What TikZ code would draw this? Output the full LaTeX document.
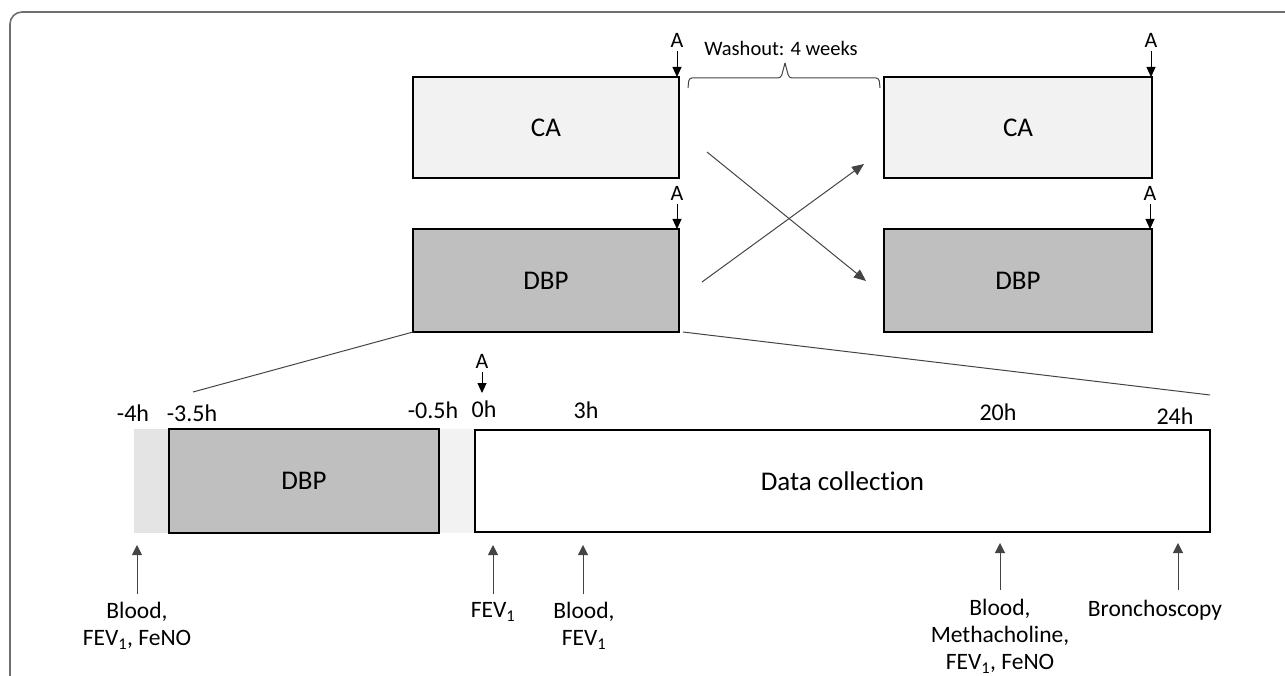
\documentclass[tikz,border=0pt]{standalone}
\usepackage{fontspec}
\setmainfont{Carlito}[Ligatures=NoCommon]
\usetikzlibrary{arrows.meta}
\definecolor{lightbox}{HTML}{F2F2F2}
\definecolor{darkbox}{HTML}{BFBFBF}
\definecolor{bandA}{HTML}{E4E4E4}
\definecolor{bandB}{HTML}{F2F2F2}
\definecolor{framecol}{HTML}{6E6E6E}
\definecolor{conn}{HTML}{444444}
\tikzset{
  box/.style={draw=black, line width=1.3pt, inner sep=0pt, outer sep=0pt, font=\fontsize{27}{32}\selectfont},
  alabel/.style={inner sep=0pt, font=\fontsize{22}{26}\selectfont},
  tlabel/.style={inner sep=0pt, anchor=base, font=\fontsize{24}{28}\selectfont},
  blabel/.style={inner sep=0pt, anchor=north, align=center, font=\fontsize{23.5}{27}\selectfont},
  arr/.style={draw=black, line width=0.9pt, -{Triangle[length=10pt,width=9pt]}},
  conline/.style={draw=conn, line width=1pt},
  conarr/.style={draw=conn, line width=1pt, -{Triangle[length=12pt,width=10pt]}},
  uparr/.style={draw=conn, line width=1pt, -{Triangle[length=10pt,width=10pt]}}
}
\begin{document}
\begin{tikzpicture}[x=1pt,y=-1pt]
\useasboundingbox (0,0) rectangle (1285,676);
\clip (0,0) rectangle (1285,676);
% frame
\draw[framecol, line width=1.6pt, rounded corners=12pt] (10,12) rectangle (1320,720);

% upper boxes
\node[box, fill=lightbox, minimum width=266pt, minimum height=101pt] (ca1) at (546,127.5) {CA};
\node[box, fill=darkbox, minimum width=266pt, minimum height=103pt] (dbp1) at (546,280.5) {DBP};
\node[box, fill=lightbox, minimum width=268pt, minimum height=101pt] (ca2) at (1018,127.5) {CA};
\node[box, fill=darkbox, minimum width=268pt, minimum height=103pt] (dbp2) at (1018,280.5) {DBP};

% A arrows
\node[alabel] (a1) at (677,40) {A};
\node[alabel] (a2) at (1151,40) {A};
\node[alabel] (a3) at (677,193) {A};
\node[alabel] (a4) at (1150,193) {A};
\draw[arr, shorten <=4pt] (a1.south) -- (a1.south |- ca1.north);
\draw[arr, shorten <=4pt] (a2.south) -- (a2.south |- ca2.north);
\draw[arr, shorten <=4pt] (a3.south) -- (a3.south |- dbp1.north);
\draw[arr, shorten <=4pt] (a4.south) -- (a4.south |- dbp2.north);

% washout brace
\node[inner sep=0pt, font=\fontsize{20.5}{24}\selectfont] (wash) at (781,48) {Washout: 4 weeks};
\draw[conn, line width=1pt, rounded corners=3pt] (688,88) -- (689,78) -- (781,78) -- (785,63);
\draw[conn, line width=1pt, rounded corners=3pt] (785,63) -- (789,78) -- (879,78) -- (880,88);

% crossing arrows
\coordinate (c1s) at (702,282);
\coordinate (c1e) at (864,164);
\coordinate (c2s) at (707,152);
\coordinate (c2e) at (866,281);
\draw[conarr] (c1s) -- (c1e);
\draw[conarr] (c2s) -- (c2e);

% timeline bands and boxes
\fill[bandA] (134,429) rectangle (169,533);
\fill[bandB] (439,429) rectangle (475,533);
\node[box, fill=darkbox, minimum width=270pt, minimum height=104pt] (dbp3) at (304,481) {DBP};
\node[box, fill=white, minimum width=735pt, minimum height=102pt] (dc) at (842.5,481) {Data collection};

% zoom lines
\coordinate (zl) at (193,392);
\coordinate (zr) at (1210,395);
\draw[conline] (dbp1.south west) -- (zl);
\draw[conline] ([xshift=4pt]dbp1.south east) -- (zr);

% time labels
\node[tlabel] (tm4) at (133,421) {-4h};
\node[tlabel] (tm35) at (192,421) {-3.5h};
\node[tlabel] (tm05) at (433,418) {-0.5h};
\node[tlabel] (t0) at (484,417) {0h};
\node[tlabel] (t3) at (586,418) {3h};
\node[tlabel] (t20) at (998,420) {20h};
\node[tlabel] (t24) at (1175,424) {24h};

% A at 0h
\node[alabel] (a5) at (482,361) {A};
\coordinate (a5tip) at (482,393);
\draw[arr, shorten <=4pt] (a5.south) -- (a5tip);

% bottom arrows and labels
\node[blabel] (l1) at (137,602) {Blood,\\FEV\textsubscript{1}, FeNO};
\node[blabel] (l2) at (493,602) {FEV\textsubscript{1}};
\node[blabel] (l3) at (584,602) {Blood,\\FEV\textsubscript{1}};
\node[blabel] (l4) at (1000,599) {Blood,\\Methacholine,\\FEV\textsubscript{1}, FeNO};
\node[blabel] (l5) at (1155,600) {Bronchoscopy};
\coordinate (u1) at (137,545);
\coordinate (u2) at (493,545);
\coordinate (u3) at (583,545);
\coordinate (u4) at (1000,543);
\coordinate (u5) at (1178,543);
\coordinate (v1) at (137,594);
\coordinate (v2) at (493,594);
\coordinate (v3) at (583,594);
\coordinate (v4) at (1000,590);
\coordinate (v5) at (1178,590);
\draw[uparr] (v1) -- (u1);
\draw[uparr] (v2) -- (u2);
\draw[uparr] (v3) -- (u3);
\draw[uparr] (v4) -- (u4);
\draw[uparr] (v5) -- (u5);
\end{tikzpicture}
\end{document}
